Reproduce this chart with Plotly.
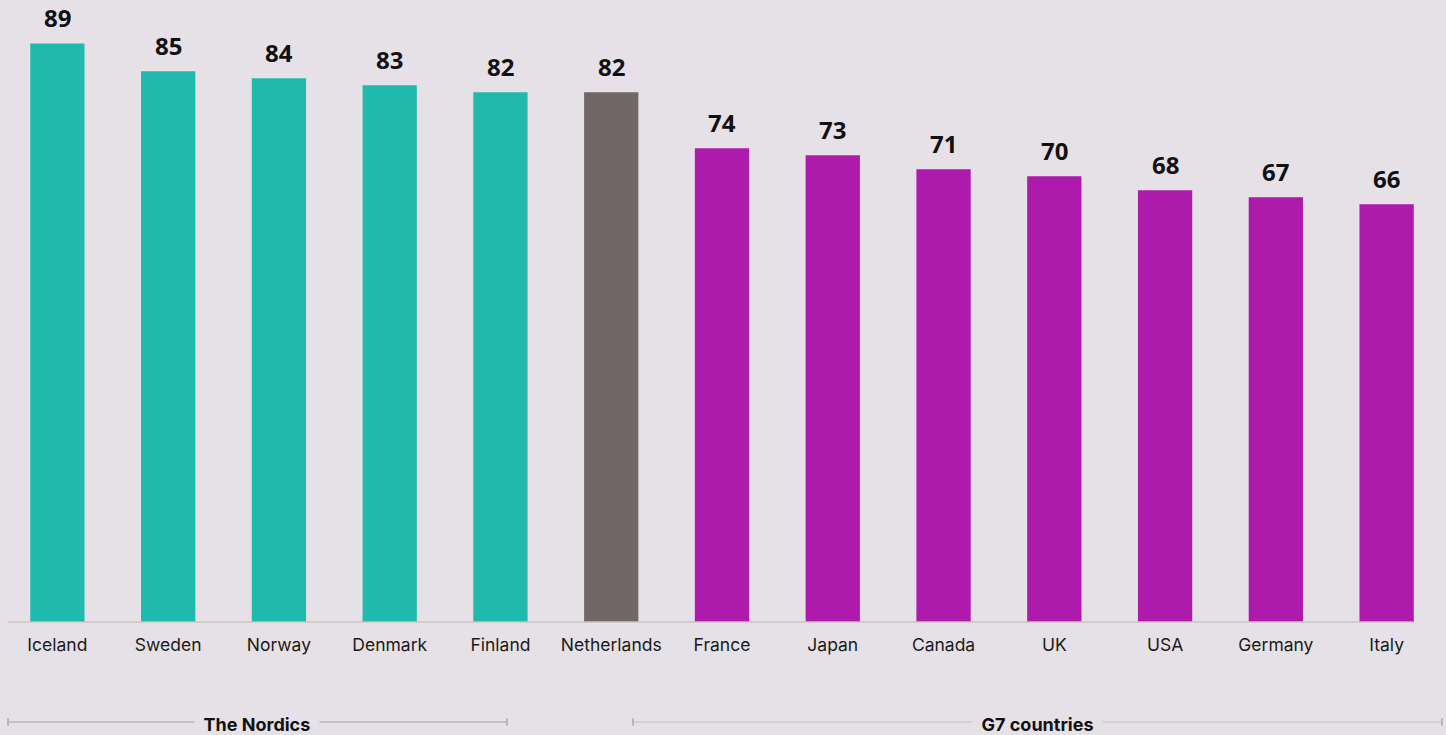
import plotly.graph_objects as go

# Share of respondents (score) by country
countries = ["Iceland", "Sweden", "Norway", "Denmark", "Finland", "Netherlands",
             "France", "Japan", "Canada", "UK", "USA", "Germany", "Italy"]
scores = [89, 85, 84, 83, 82, 82, 74, 73, 71, 70, 68, 67, 66]
groups = ["nordic"] * 5 + ["nl"] + ["g7"] * 7

group_colors = {"nordic": "#20B9AE", "nl": "#716766", "g7": "#AD1AAC"}
bar_colors = [group_colors[g] for g in groups]

BG = "#E6E1E6"
LINE = "#BDB5B0"

fig = go.Figure()
fig.add_trace(go.Bar(
    x=countries, y=scores, marker=dict(color=bar_colors, line=dict(width=0)),
    width=0.49, hoverinfo="x+y",
))

# value labels above each bar
for c, v in zip(countries, scores):
    fig.add_annotation(
        x=c, y=v, text=f"<b>{v}</b>", showarrow=False, yanchor="bottom", yshift=7,
        font=dict(family="Open Sans", size=24, color="#111111"),
    )

# baseline
fig.add_shape(type="line", xref="paper", yref="paper", x0=0.004, x1=0.98, y0=0, y1=0,
              line=dict(color="#CBC3BF", width=1.5), layer="above")

# group brackets below the axis
yb = -0.1608
def bracket(x0, x1, label, xc, color):
    fig.add_shape(type="line", xref="paper", yref="paper", x0=x0, x1=x1, y0=yb, y1=yb,
                  line=dict(color=color, width=1.5))
    for xe in (x0, x1):
        fig.add_shape(type="line", xref="paper", yref="paper", x0=xe, x1=xe,
                      y0=yb - 0.006, y1=yb + 0.006, line=dict(color=LINE, width=2))
    fig.add_annotation(
        xref="paper", yref="paper", x=xc, y=yb, text=f"<b>{label}</b>", showarrow=False,
        xanchor="center", yanchor="middle", yshift=-2, bgcolor=BG, borderpad=0,
        font=dict(family="Inter", size=18, color="#111111"),
    )

bracket(0.0042, 0.3507, "  The Nordics  ", 0.177, LINE)
bracket(0.4382, 1.0, "  G7 countries  ", 0.7194, "#D0CACA")

fig.update_layout(
    width=1446, height=735,
    margin=dict(l=2, r=4, t=0, b=113),
    paper_bgcolor=BG, plot_bgcolor=BG,
    showlegend=False,
    xaxis=dict(
        showgrid=False, zeroline=False, showline=False, ticks="",
        tickfont=dict(family="Inter", size=17.5, color="#1A1A1A"),
        ticklabelstandoff=10,
        range=[-0.5, 12.5],
    ),
    yaxis=dict(visible=False, range=[6.3, 95.2]),
)

fig.write_html("out.html")
